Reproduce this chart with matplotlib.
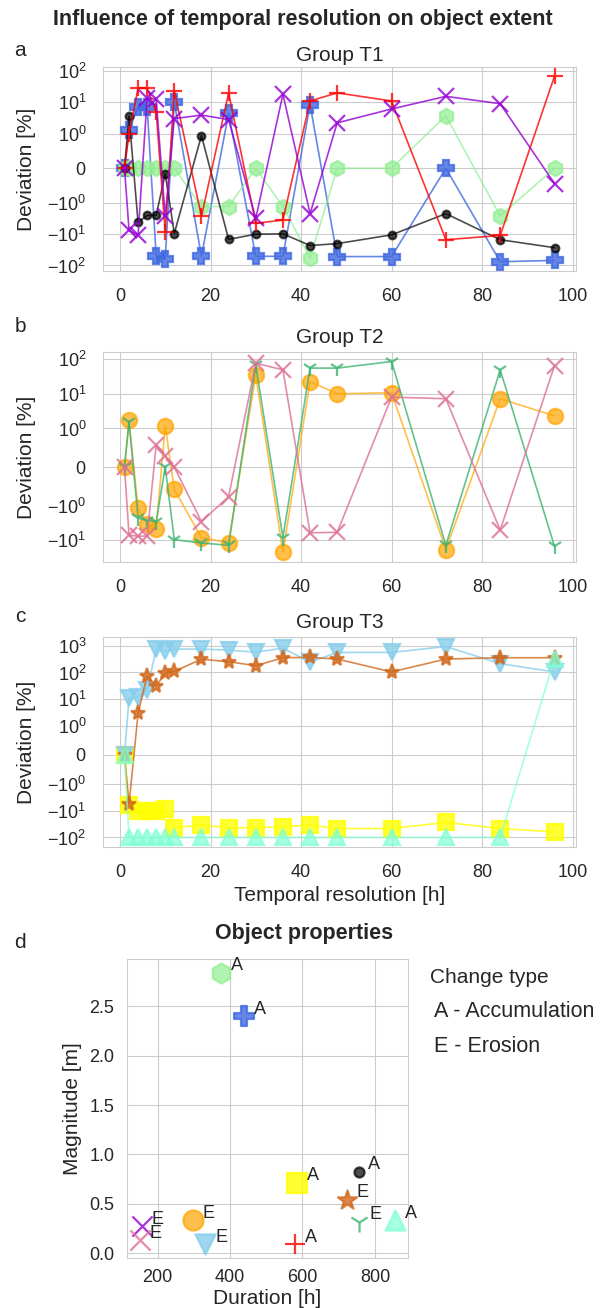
import matplotlib
matplotlib.use("Agg")
import matplotlib.pyplot as plt
import seaborn as sns
from matplotlib.lines import Line2D

sns.set_style("whitegrid")
plt.rcParams["font.family"] = ["Liberation Sans", "DejaVu Sans"]

# temporal resolution [h]
res_h = [1, 2, 4, 6, 8, 10, 12, 18, 24, 30, 36, 42, 48, 60, 72, 84, 96]

# group T1 deviations [%]
t1_red = [0, 1.0, 28, 28, 4.9, -8.4, 23, -2.7, 20, -4.5, -3.5, 11, 20, 11, -15, -11, 68]
t1_purple = [0, -7.4, -10.8, 14, 12.5, -2.7, 3.0, 3.9, 2.8, -3.1, 18, -2.2, 2.2, 6.1, 15.5, 9, -0.44]
t1_blue = [0, 1.3, 7.0, 7.0, -49, -60, 10, -51, 4.4, -51, -51, 8.4, -52, -52, 0, -76, -69]
t1_green = [0, 0, 0, 0, 0, 0, 0, -1.3, -1.3, 0, -1.3, -57, 0, 0, 3.7, -2.6, 0]
t1_black = [0, 3.6, -4.2, -2.5, -2.5, -0.16, -9.5, 0.94, -14.6, -10, -9.7, -23, -20, -10.5, -2.2, -15, -27]

# group T2
t2_orange = [0, 1.7, -1.2, -3.4, -4.7, 1.2, -0.58, -8.5, -11.7, 35, -22.5, 22.5, 10, 10.7, -18.5, 7.2, 2.3]
t2_green = [0, 1.55, -2.3, -2.7, -2.9, 0, -9.6, -12, -14, 68, -8.4, 55, 55, 85, -14, 49, -15]
t2_pink = [0, -7.2, -7.6, -7.6, 0.57, 0.28, 0, -2.9, -0.77, 76, 49, -6.1, -5.9, 8.0, 7.2, -5.1, 65]

# group T3
t3_yellow = [0, -6, -10, -10, -10, -8.7, -43, -34, -43, -43, -39, -34, -46, -46, -27, -46, -62]
t3_blue = [0, 11, 12, 22, 760, 630, 760, 760, 700, 580, 830, 245, 570, 570, 950, 215, 105]
t3_brown = [0, -5.7, 2.9, 75, 31, 92, 110, 316, 255, 180, 360, 370, 320, 105, 320, 360, 360]
t3_aqua = [0, -100, -100, -100, -100, -100, -100, -100, -100, -100, -100, -100, -100, -100, -100, -100, 330]

# object properties
obj_dur = [156, 151, 298, 332, 376, 440, 580, 586, 723, 757, 755, 856]
obj_mag = [0.275, 0.13, 0.335, 0.09, 2.84, 2.40, 0.09, 0.714, 0.54, 0.32, 0.826, 0.335]
obj_type = ["E", "E", "E", "E", "A", "A", "A", "A", "E", "E", "A", "A"]
obj_style = [("darkviolet", "x", 0.8), ("palevioletred", "x", 0.8), ("orange", "o", 0.7),
             ("skyblue", "v", 0.8), ("lightgreen", "h", 0.7), ("royalblue", "P", 0.8),
             ("red", "+", 0.8), ("yellow", "s", 0.8), ("chocolate", "*", 0.8),
             ("mediumseagreen", "1", 0.8), ("black", ".", 0.7), ("aquamarine", "^", 0.7)]

W, H = 602, 1308
fig = plt.figure(figsize=(W / 100, H / 100), dpi=100)


def px_axes(l, t, r, b):
    return fig.add_axes([l / W, 1 - b / H, (r - l) / W, (b - t) / H])


def style_axes(ax, title, pad):
    ax.set_yscale("symlog", linthresh=1)
    ax.set_title(title, fontsize=15, pad=pad)
    ax.set_ylabel("Deviation [%]", fontsize=15)
    ax.yaxis.set_label_coords(-0.142, 0.5)
    ax.tick_params(axis="both", labelsize=13, length=0)
    ax.tick_params(axis="x", pad=12)
    ax.tick_params(axis="y", pad=12)
    ax.set_xticks([0, 20, 40, 60, 80, 100])


groups = [
    ((103, 67, 576, 271), "Group T1", 4, [
        (t1_blue, "royalblue", "P", 0.8),
        (t1_green, "lightgreen", "h", 0.7),
        (t1_black, "black", ".", 0.7),
        (t1_red, "red", "+", 0.8),
        (t1_purple, "darkviolet", "x", 0.8),
    ]),
    ((103, 352, 576, 562), "Group T2", 6.5, [
        (t2_orange, "orange", "o", 0.7),
        (t2_green, "mediumseagreen", "1", 0.8),
        (t2_pink, "palevioletred", "x", 0.8),
    ]),
    ((103, 637, 576, 847), "Group T3", 6.5, [
        (t3_yellow, "yellow", "s", 0.8),
        (t3_blue, "skyblue", "v", 0.8),
        (t3_brown, "chocolate", "*", 0.8),
        (t3_aqua, "aquamarine", "^", 0.7),
    ]),
]

axes = []
for box, title, pad, series in groups:
    ax = px_axes(*box)
    for vals, col, mk, a in series:
        ax.plot(res_h, vals, color=col, marker=mk, markersize=11, mew=1.6,
                lw=1.2, alpha=a)
    style_axes(ax, title, pad)
    axes.append(ax)

axes[2].set_xlabel("Temporal resolution [h]", fontsize=15)

# object properties
axd = px_axes(127, 959, 408, 1258)
for x, y, t, (col, mk, a) in zip(obj_dur, obj_mag, obj_type, obj_style):
    axd.scatter(x, y, s=210, color=col, marker=mk, alpha=a, linewidths=1.6)
    axd.annotate(t, (x, y), xytext=(7, 5), textcoords="offset points",
                 ha="left", va="center", fontsize=13)
axd.set_xlabel("Duration [h]", fontsize=15, labelpad=2)
axd.set_ylabel("Magnitude [m]", fontsize=15)
axd.yaxis.set_label_coords(-0.16, 0.5)
axd.tick_params(axis="both", labelsize=13, length=0)
axd.tick_params(axis="y", pad=9)
axd.tick_params(axis="x", pad=8)
axd.set_xticks([200, 400, 600, 800])

blank = [Line2D([], [], linestyle="none"), Line2D([], [], linestyle="none")]
leg = axd.legend(blank, ["A - Accumulation", "E - Erosion"], title="Change type",
                 loc="upper left", bbox_to_anchor=(1.01, 1.035), frameon=False,
                 handlelength=0, handletextpad=0.2, fontsize=15.5,
                 title_fontsize=15, alignment="left", labelspacing=0.65)

fig.text(303 / W, 1 - 20 / H, "Influence of temporal resolution on object extent",
         ha="center", va="center", fontsize=15.5, fontweight="bold")
fig.text(304 / W, 1 - 933 / H, "Object properties", ha="center", va="center",
         fontsize=15.5, fontweight="bold")
for lab, yy in [("a", 50), ("b", 327), ("c", 617), ("d", 943)]:
    fig.text(20 / W, 1 - yy / H, lab, ha="center", va="center", fontsize=15)

fig.savefig("out.png", dpi=100)
